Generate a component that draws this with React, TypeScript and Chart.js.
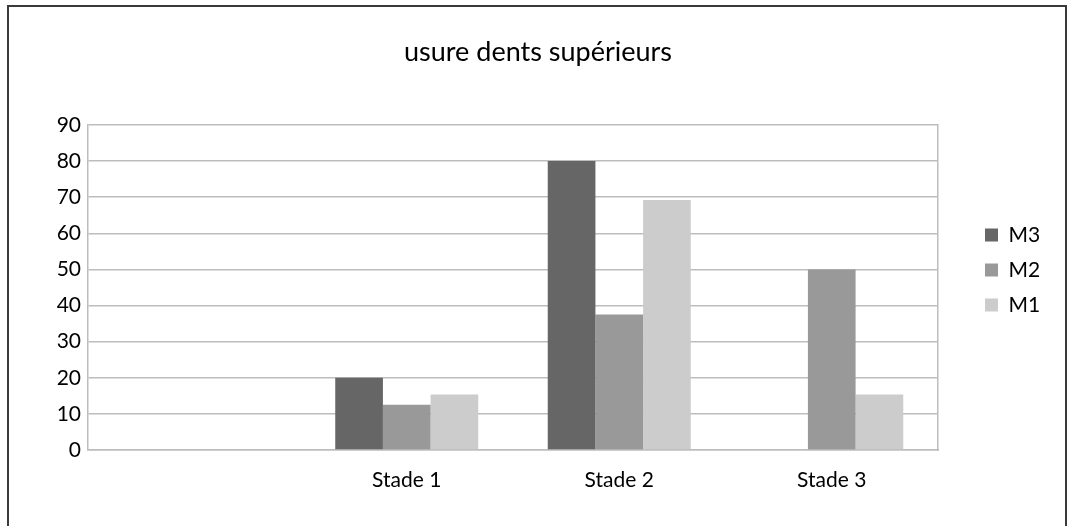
import React, { useEffect, useRef } from "react";
import { Chart, registerables } from "chart.js";

Chart.register(...registerables);

const categories: string[] = ["", "Stade 1", "Stade 2", "Stade 3"];
const seriesNames: string[] = ["M3", "M2", "M1"];
const m3Values: (number | null)[] = [null, 20, 80, 0];
const m2Values: (number | null)[] = [null, 12.5, 37.5, 50];
const m1Values: (number | null)[] = [null, 15.4, 69.2, 15.4];
const seriesColors: string[] = ["#666666", "#999999", "#cccccc"];
const titleText = "usure dents supérieurs";
const yMin = 0;
const yMax = 90;
const yStep = 10;

const FONT = "Lato, 'Open Sans', sans-serif";
const TICK_SIZE = 21;
const LEGEND_SIZE = 21;
const TITLE_SIZE = 27;
const GRID = "#bdbdbd";

export default function App() {
  const ref = useRef<HTMLCanvasElement | null>(null);

  useEffect(() => {
    const canvas = ref.current;
    if (!canvas) return;
    // measure legend width to place it precisely
    const mctx = document.createElement("canvas").getContext("2d")!;
    mctx.font = `normal ${LEGEND_SIZE}px ${FONT}`;
    const tw = Math.max(...seriesNames.map((s) => mctx.measureText(s).width));
    const legendPad = 14;
    const boxSize = 13;
    const legendW = legendPad + boxSize + LEGEND_SIZE / 2 + tw + 10;
    const targetBoxX = 985;
    const plotRight = 938;
    const plotLeft = 88;
    const legendLeft = targetBoxX - legendPad;
    const padRight = Math.max(0, 1070 - legendLeft - legendW);
    const padLeft = padRight + 6;
    const y2Width = legendLeft - plotRight;

    const values = [m3Values, m2Values, m1Values];
    const chart = new Chart(canvas, {
      type: "bar",
      data: {
        labels: categories,
        datasets: seriesNames.map((name, i) => ({
          label: name,
          data: values[i],
          backgroundColor: seriesColors[i],
          borderWidth: 0,
          categoryPercentage: 0.673,
          barPercentage: 1,
          yAxisID: "y",
        })),
      },
      options: {
        responsive: false,
        animation: false,
        devicePixelRatio: 1,
        layout: { padding: { left: padLeft, right: padRight, top: 0, bottom: 0 } },
        plugins: {
          tooltip: { enabled: false },
          title: {
            display: true,
            text: titleText,
            color: "#000000",
            font: { family: FONT, size: TITLE_SIZE, weight: "normal" },
            padding: { top: 36.5, bottom: 56.1 },
          },
          legend: {
            display: true,
            position: "right",
            align: "center",
            labels: {
              color: "#000000",
              font: { family: FONT, size: LEGEND_SIZE },
              boxWidth: boxSize,
              boxHeight: boxSize,
              padding: legendPad,
            },
          },
        },
        scales: {
          x: {
            type: "category",
            grid: { display: false, drawTicks: false },
            border: { display: true, color: GRID, width: 1.5 },
            ticks: {
              color: "#000000",
              font: { family: FONT, size: TICK_SIZE },
              padding: 18,
              maxRotation: 0,
              autoSkip: false,
            },
            afterFit: (s: any) => {
              s.height = 90;
            },
          },
          y: {
            type: "linear",
            position: "left",
            min: yMin,
            max: yMax,
            grid: { color: GRID, lineWidth: 1.5, drawTicks: false },
            border: { display: true, color: GRID, width: 1.5 },
            ticks: {
              stepSize: yStep,
              color: "#000000",
              font: { family: FONT, size: TICK_SIZE },
              padding: 7,
            },
            afterFit: (s: any) => {
              s.width = plotLeft - padLeft;
            },
          },
          y2: {
            type: "linear",
            position: "right",
            min: yMin,
            max: yMax,
            grid: { display: false, drawTicks: false },
            border: { display: true, color: GRID, width: 1.5 },
            ticks: { display: false },
            afterFit: (s: any) => {
              s.width = y2Width;
            },
          },
        },
      },
    });
    return () => chart.destroy();
  }, []);

  return (
    <div
      style={{
        position: "fixed",
        left: 0,
        top: 0,
        width: 1070,
        height: 526,
        overflow: "hidden",
        background: "#ffffff",
      }}
    >
      <canvas
        ref={ref}
        width={1070}
        height={540}
        style={{ position: "absolute", left: 0, top: 0, width: 1070, height: 540 }}
      />
      <div
        style={{
          position: "absolute",
          left: 7,
          top: 5,
          width: 1060,
          height: 600,
          border: "2px solid #3a3a3a",
          boxSizing: "border-box",
          pointerEvents: "none",
        }}
      />
    </div>
  );
}
